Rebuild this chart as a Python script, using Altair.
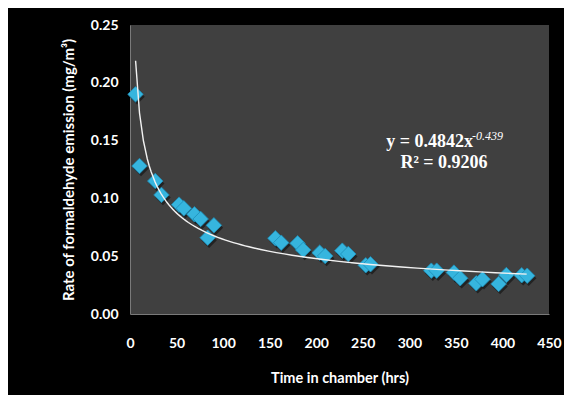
import altair as alt
import pandas as pd

hours = [5.9, 10.2, 27.1, 33.8, 52.7, 57.8, 69.2, 75.9, 90.1, 83.4,
         156.1, 162.4, 180.0, 186.0, 203.7, 209.6, 228.0, 234.4, 253.2, 258.3,
         323.6, 329.4, 347.9, 354.6, 371.9, 378.6, 395.9, 404.2, 420.7, 426.6]
rate = [0.190, 0.128, 0.115, 0.103, 0.0946, 0.0914, 0.0862, 0.0822, 0.0767, 0.066,
        0.0655, 0.0617, 0.0611, 0.0554, 0.0530, 0.0502, 0.0548, 0.0519, 0.0421, 0.0430,
        0.0375, 0.0375, 0.0358, 0.0309, 0.0265, 0.0300, 0.0260, 0.0337, 0.0335, 0.0331]

x_ticks = [0, 50, 100, 150, 200, 250, 300, 350, 400, 450]
y_ticks = [0.0, 0.05, 0.10, 0.15, 0.20, 0.25]

eq_main = "y = 0.4842x"
eq_sup = "-0.439"
eq_r2 = "R² = 0.9206"

df = pd.DataFrame({"t": hours, "v": rate})

FONT = "Lato"

xenc = alt.X("t:Q", scale=alt.Scale(domain=[0, 450], nice=False),
             axis=alt.Axis(values=x_ticks, title="Time in chamber (hrs)", format="d",
                           labelPadding=22, titlePadding=21, labelFlush=False,
                           titleFontSize=14.5))
yenc = alt.Y("v:Q", scale=alt.Scale(domain=[0, 0.25], nice=False),
             axis=alt.Axis(values=y_ticks, title="Rate of formaldehyde emission (mg/m³)",
                           format=".2f", labelPadding=12, titlePadding=14, labelFlush=False,
                           titleFontSize=15))

base = alt.Chart(df)

shadow = base.mark_point(shape="diamond", size=240, filled=True, color="#151515",
                         opacity=0.7, xOffset=1.5, yOffset=2.5).encode(x=xenc, y=yenc)
points = base.mark_point(shape="diamond", size=240, filled=True, fill="#36b5de",
                         stroke="#1d8db8", strokeWidth=0.8, opacity=1).encode(x=xenc, y=yenc)

trend = base.transform_regression("t", "v", method="pow", extent=[6, 426]).mark_line(
    color="#f2f2f2", strokeWidth=1.4).encode(x="t:Q", y="v:Q")

ann = pd.DataFrame({"t": [0], "v": [0]})
t_main = alt.Chart(ann).mark_text(text=eq_main, font="Liberation Serif", fontWeight="bold",
                                  fontSize=18, color="white", align="right", baseline="alphabetic").encode(
    x=alt.value(343), y=alt.value(122))
t_sup = alt.Chart(ann).mark_text(text=eq_sup, font="Liberation Serif", fontWeight="normal",
                                 fontStyle="italic", fontSize=12, color="white", align="left",
                                 baseline="alphabetic").encode(x=alt.value(342), y=alt.value(115))
t_r2 = alt.Chart(ann).mark_text(text=eq_r2, font="Liberation Serif", fontWeight="bold",
                                fontSize=18, color="white", align="center", baseline="alphabetic").encode(
    x=alt.value(314), y=alt.value(143))

chart = alt.layer(shadow, points, trend, t_main, t_sup, t_r2).properties(
    width=419, height=289,
    background="black",
    autosize=alt.AutoSizeParams(type="none"),
    padding={"left": 122, "top": 17, "right": 15, "bottom": 81},
).configure_view(fill="#404040", stroke=None).configure_axis(
    grid=False, ticks=False, domain=True, domainColor="#7a7a7a", domainWidth=1,
    labelColor="white", labelFont=FONT, labelFontSize=14, labelFontWeight="bold",
    titleColor="white", titleFont=FONT, titleFontWeight="bold",
)

chart.save("out.html", embed_options={"renderer": "svg", "actions": False})
